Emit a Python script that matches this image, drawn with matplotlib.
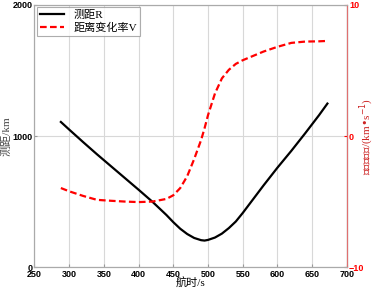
import matplotlib
matplotlib.use('Agg')
import matplotlib.pyplot as plt

plt.rcParams['font.family'] = ['Liberation Serif', 'Noto Sans CJK SC', 'DejaVu Sans']

# flight time (s)
t = [288, 300, 320, 340, 360, 380, 400, 420, 440, 450, 460, 470, 480, 490, 495,
     500, 510, 520, 530, 540, 550, 560, 580, 600, 620, 640, 660, 672]
# range R (km)
r = [1108, 1050, 955, 862, 772, 682, 592, 500, 400, 345, 295, 255, 225, 208, 205,
     210, 228, 258, 300, 350, 415, 485, 625, 760, 888, 1022, 1160, 1248]
# range rate V (km/s)
v = [-3.95, -4.2, -4.55, -4.85, -4.92, -4.98, -5.02, -4.98, -4.78, -4.5, -3.95, -3.05, -1.75, -0.3, 0.6,
     1.6, 3.25, 4.4, 5.05, 5.5, 5.78, 6.0, 6.44, 6.8, 7.1, 7.2, 7.22, 7.25]

xticks = [250, 300, 350, 400, 450, 500, 550, 600, 650, 700]
lticks = [0, 1000, 2000]
rticks = [-10, 0, 10]

fig = plt.figure(figsize=(3.77, 2.89), dpi=100)
ax = fig.add_axes([0.0915, 0.0744, 0.8285, 0.909])
ax2 = ax.twinx()

tick_font = dict(family='Liberation Sans', size=6.5, weight='bold')

l1, = ax.plot(t, r, color='black', lw=1.6, label='测距R')
l2, = ax2.plot(t, v, color='red', lw=1.6, ls='--', dashes=(3, 1.5), label='距离变化率V')

ax.set_xlim(250, 700)
ax.set_ylim(0, 2000)
ax2.set_ylim(-10, 10)
ax.set_xticks(xticks)
ax.set_yticks(lticks)
ax2.set_yticks(rticks)
ax.grid(True, color='#d8d8d8', lw=0.8)

for lab in ax.get_xticklabels() + ax.get_yticklabels():
    lab.set_fontproperties(tick_font)
for lab in ax2.get_yticklabels():
    lab.set_fontproperties(tick_font)
    lab.set_color('red')

ax.tick_params(direction='in', length=2, color='#999999', pad=1.5)
ax2.tick_params(direction='in', length=2, color='red', pad=1.5)
for s in ['left', 'bottom', 'top']:
    ax.spines[s].set_color('#aaaaaa')
    ax2.spines[s].set_color('#aaaaaa')
ax2.spines['right'].set_color('#e07070')

ax.set_xlabel('航时/s', fontsize=8)
ax.xaxis.set_label_coords(0.5, -0.035)
ax.set_ylabel('测距/km', fontsize=8, color='#444444')
ax.yaxis.set_label_coords(-0.072, 0.5)
ax2.set_ylabel('距离变化率/(km•s$^{-1}$)', fontsize=8, color='#cc2222')
ax2.yaxis.set_label_coords(1.035, 0.5)

leg = ax.legend([l1, l2], ['测距R', '距离变化率V'], loc='upper left', fontsize=8,
                frameon=True, fancybox=False, edgecolor='#999999', borderpad=0.3,
                handlelength=2.2, labelspacing=0.2, borderaxespad=0.2)
leg.get_frame().set_linewidth(0.8)

fig.savefig('out.png', dpi=100)
